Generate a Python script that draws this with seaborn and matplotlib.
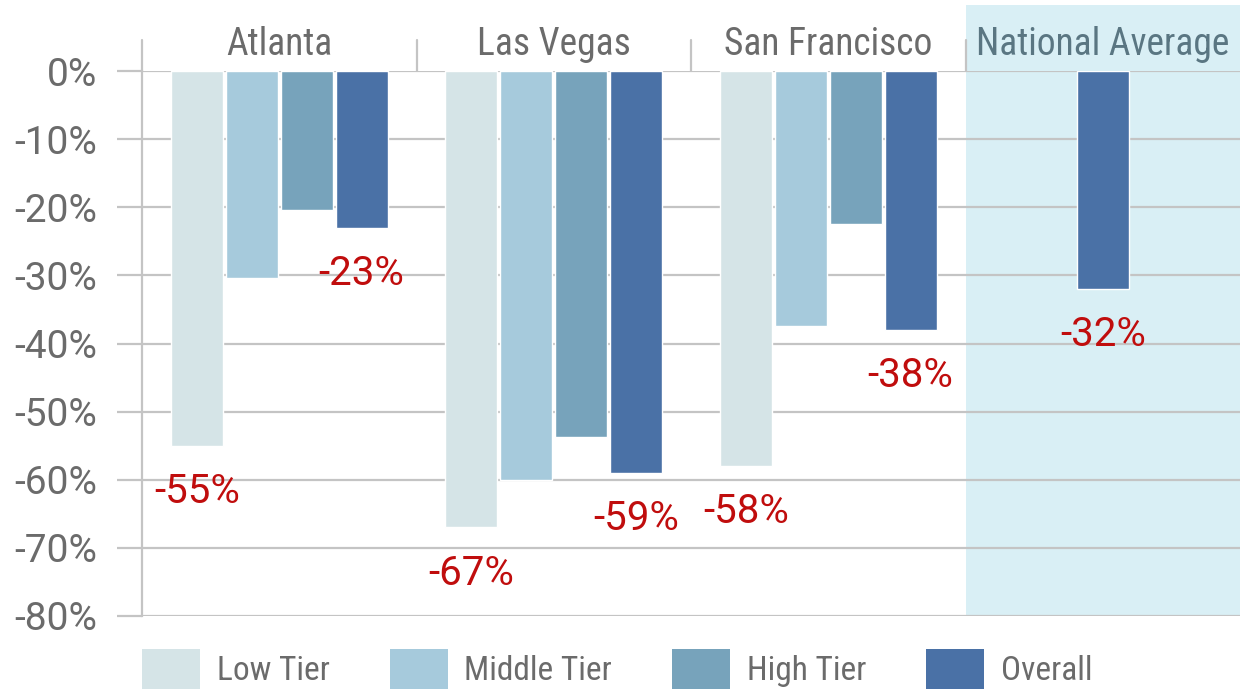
import matplotlib
matplotlib.use("Agg")
import matplotlib.pyplot as plt
from matplotlib.patches import Patch, Rectangle
import pandas as pd
import seaborn as sns

# Chart data
groups = ["Atlanta", "Las Vegas", "San Francisco", "National Average"]
tiers = ["Low Tier", "Middle Tier", "High Tier", "Overall"]
atlanta_change = [-55, -30.4, -20.4, -23]
las_vegas_change = [-67, -60, -53.7, -59]
san_francisco_change = [-58, -37.4, -22.5, -38]
national_overall_change = [-32]
labeled_tiers = ["Low Tier", "Overall"]
y_ticks = [0, -10, -20, -30, -40, -50, -60, -70, -80]
y_tick_labels = ["0%", "-10%", "-20%", "-30%", "-40%", "-50%", "-60%", "-70%", "-80%"]

tier_colors = ["#d5e4e7", "#a6cadc", "#77a3bb", "#4a71a6"]
grid_color = "#c4c4c4"
text_gray = "#6b6b6b"
label_red = "#c00d0d"
national_bg = "#d9eff5"

city_rows = []
for city, vals in zip(groups[:3], [atlanta_change, las_vegas_change, san_francisco_change]):
    for tier, v in zip(tiers, vals):
        city_rows.append({"group": city, "tier": tier, "change": v})
city_df = pd.DataFrame(city_rows)
national_df = pd.DataFrame({"group": [groups[3]], "tier": ["Overall"], "change": national_overall_change})

sns.set_theme(style="white")
plt.rcParams["font.family"] = ["Roboto Condensed", "DejaVu Sans"]
number_font = ["Roboto", "DejaVu Sans"]  # digits in the original are wider than the letters

fig = plt.figure(figsize=(12.4, 6.89), dpi=100)
ax = fig.add_axes([142 / 1240, 1 - 616 / 689, 1 - 142 / 1240, (616 - 71) / 689])

# national average shaded column (extends up behind the header)
ax.add_patch(Rectangle((2.5, -80), 1.0, 89.7, facecolor=national_bg, edgecolor="none",
                       zorder=0, clip_on=False))

sns.barplot(data=city_df, x="group", y="change", hue="tier", order=groups, hue_order=tiers,
            palette=tier_colors, saturation=1, width=0.8, gap=0.05, errorbar=None,
            edgecolor="white", linewidth=1, legend=False, ax=ax, zorder=2)
sns.barplot(data=national_df, x="group", y="change", order=groups, color=tier_colors[3],
            saturation=1, width=0.19, errorbar=None, edgecolor="white", linewidth=1,
            ax=ax, zorder=2)

ax.set_xlim(-0.5, 3.5)
ax.set_ylim(-80, 0)
ax.set_xlabel("")
ax.set_ylabel("")
ax.set_xticks([])
ax.set_yticks(y_ticks)
ax.set_yticklabels(y_tick_labels, family=number_font)
ax.set_axisbelow(True)
ax.yaxis.grid(True, color=grid_color, linewidth=1.6)
ax.xaxis.grid(False)
ax.tick_params(axis="y", left=True, length=18, width=1.6, color=grid_color, pad=14,
               labelsize=28, labelcolor=text_gray)
for side in ["top", "right", "bottom"]:
    ax.spines[side].set_visible(False)
ax.spines["left"].set_color(grid_color)
ax.spines["left"].set_linewidth(1.6)

# header separators and group titles
for x in [-0.5, 0.5, 1.5, 2.5]:
    ax.plot([x, x], [0, 4.5], color=grid_color, linewidth=1.6, clip_on=False, zorder=1)
for i, g in enumerate(groups):
    ax.text(i, 2.3, g, ha="center", va="baseline", fontsize=27,
            color="#5a7682" if i == 3 else text_gray)

# red value labels under the low tier and overall bars
for container, tier in zip(ax.containers, tiers + ["Overall"]):
    if tier not in labeled_tiers:
        continue
    for bar in container:
        h = bar.get_height()
        if h != h:
            continue
        ax.annotate(f"{h:.0f}%", (bar.get_x() + bar.get_width() / 2, h),
                    xytext=(0, -33), textcoords="offset points", ha="center", va="center",
                    fontsize=29, family=number_font, color=label_red, zorder=3)

handles = [Patch(facecolor=c, edgecolor="none") for c in tier_colors]
fig.legend(handles, tiers, loc="center left", bbox_to_anchor=(142 / 1240, 1 - 669 / 689),
           ncol=4, frameon=False, fontsize=24, labelcolor=text_gray, borderpad=0,
           borderaxespad=0, handlelength=1.74, handleheight=1.45, handletextpad=0.5,
           columnspacing=1.8)

fig.savefig("out.png", dpi=100)
